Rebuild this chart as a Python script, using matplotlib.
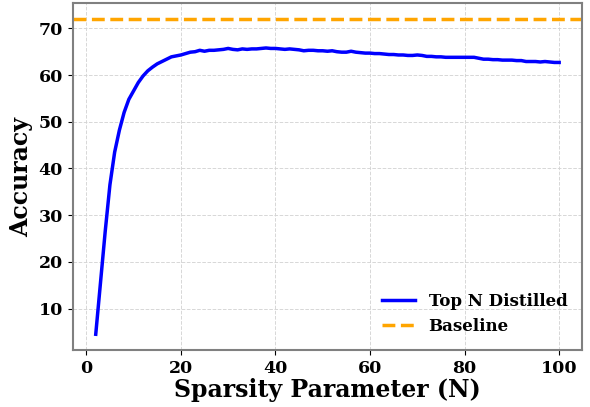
import matplotlib
matplotlib.use("Agg")
import matplotlib.pyplot as plt
import numpy as np

plt.rcParams.update({
    "font.family": "DejaVu Serif",
    "font.weight": "bold",
    "axes.labelweight": "bold",
})

# sparsity parameter N and accuracy
n_values = list(range(2, 101))
accuracy = [
    4.5, 15.5, 26.5, 36.5, 43.5, 48.2, 52.0, 54.8, 56.6,
    58.4, 59.8, 60.9, 61.7, 62.4, 62.9, 63.4, 63.9, 64.1, 64.3,
    64.6, 64.9, 65.0, 65.3, 65.1, 65.3, 65.3, 65.4, 65.5, 65.7,
    65.5, 65.4, 65.6, 65.5, 65.6, 65.6, 65.7, 65.8, 65.7, 65.7,
    65.6, 65.5, 65.6, 65.5, 65.4, 65.2, 65.3, 65.3, 65.2, 65.2,
    65.1, 65.2, 65.0, 64.9, 64.9, 65.1, 64.9, 64.8, 64.7, 64.7,
    64.6, 64.6, 64.5, 64.4, 64.4, 64.3, 64.3, 64.2, 64.2, 64.3,
    64.2, 64.0, 64.0, 63.9, 63.9, 63.8, 63.8, 63.8, 63.8, 63.8,
    63.8, 63.8, 63.6, 63.4, 63.4, 63.3, 63.3, 63.2, 63.2, 63.2,
    63.1, 63.1, 62.9, 62.9, 62.9, 62.8, 62.9, 62.8, 62.7, 62.7,
]
baseline = 72.0

fig, ax = plt.subplots(figsize=(5.9, 4.07), dpi=100)

ax.plot(n_values, accuracy, color="blue", linewidth=2.5, label="Top N Distilled")
ax.axhline(baseline, color="orange", linestyle="--", linewidth=2.5, label="Baseline")

ax.set_xlabel("Sparsity Parameter (N)", fontsize=17, fontweight="bold", labelpad=1)
ax.set_ylabel("Accuracy", fontsize=17, fontweight="bold")
ax.tick_params(labelsize=12.5)
for lab in ax.get_xticklabels() + ax.get_yticklabels():
    lab.set_fontweight("bold")

ax.grid(True, linestyle="--", color="lightgray", linewidth=0.7, alpha=0.9)
for sp in ax.spines.values():
    sp.set_color("gray")
    sp.set_linewidth(1.5)

ax.legend(loc="lower right", frameon=False, prop={"weight": "bold", "size": 12})

fig.subplots_adjust(left=0.123, right=0.987, top=0.992, bottom=0.14)
plt.savefig("out.png", dpi=100)
